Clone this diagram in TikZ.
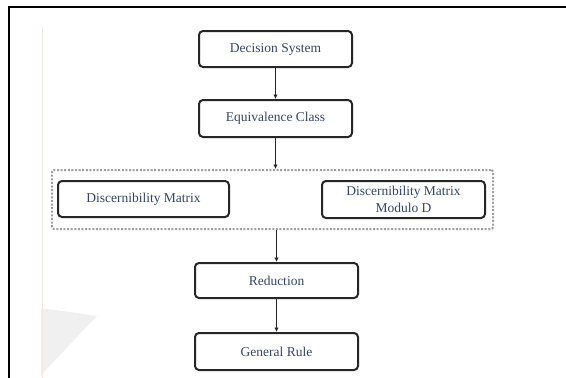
\documentclass[tikz,border=0pt]{standalone}
\usepackage{fontspec}
\setmainfont{Liberation Serif}
\usetikzlibrary{arrows.meta}
\definecolor{txtblue}{HTML}{34456B}
\definecolor{boxline}{HTML}{262626}
\tikzset{
  stepbox/.style={draw=boxline, line width=2pt, rounded corners=4pt, fill=white,
    text=txtblue, font=\fontsize{13.5}{19}\selectfont, align=center, inner sep=0pt},
  groupbox/.style={draw=gray!75, line width=2pt, dash pattern=on 2pt off 1.6pt,
    rounded corners=2pt, inner sep=0pt},
  flow/.style={draw=boxline, line width=1.7pt, -{Latex[length=4.5pt,width=4.5pt]}}
}
\begin{document}
\begin{tikzpicture}[x=1pt,y=-1pt]
  \useasboundingbox (0,0) rectangle (566,378);
  \fill[white] (0,0) rectangle (566,378);
  % page decoration
  \fill[gray!12] (41,308) -- (97,316) -- (41,375) -- cycle;
  \draw[color={rgb,255:red,250;green,228;blue,222}, line width=1pt] (42,27) -- (42,378);
  \draw[black, line width=2pt] (9,378) -- (9,7) -- (566,7);
  % grouping frame
  \node[groupbox, minimum width=441pt, minimum height=59pt] (grp) at (272.5,199.5) {};
  % steps
  \node[stepbox, minimum width=153pt, minimum height=36pt] (ds) at (275.5,49) {Decision System};
  \node[stepbox, minimum width=153pt, minimum height=37pt] (ec) at (275.5,118.5) {Equivalence Class};
  \node[stepbox, minimum width=171pt, minimum height=36pt] (dm) at (143.5,199) {Discernibility Matrix};
  \node[stepbox, minimum width=163pt, minimum height=37pt] (dmd) at (403.5,199.5) {Discernibility Matrix\\[-2pt]Modulo D};
  \node[stepbox, minimum width=163pt, minimum height=35pt] (red) at (276.5,280.5) {Reduction};
  \node[stepbox, minimum width=163pt, minimum height=37pt] (gr) at (276.5,351.5) {General Rule};
  % connectors
  \draw[flow] (ds.south) -- (ec.north);
  \draw[flow] (ec.south) -- (ec.south |- grp.north);
  \draw[flow] (red.north |- grp.south) -- (red.north);
  \draw[flow] (red.south) -- (gr.north);
\end{tikzpicture}
\end{document}
